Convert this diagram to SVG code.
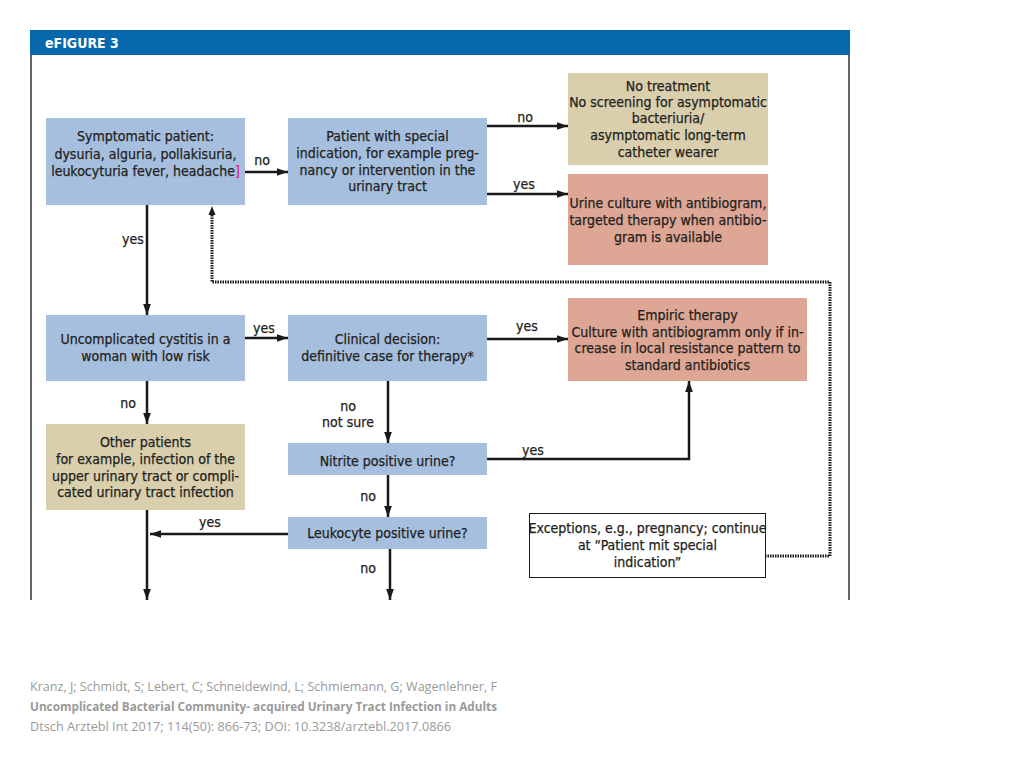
<svg xmlns="http://www.w3.org/2000/svg" width="1024" height="768" viewBox="0 0 1024 768">
<defs>
<marker id="ah" viewBox="0 0 10 10" refX="10" refY="5" markerWidth="4.5" markerHeight="4.5" markerUnits="strokeWidth" orient="auto"><path d="M0,1.5 L10,5 L0,8.5 z" fill="#1a1a1a"/></marker>
</defs>
<style>
.t{font-family:"Liberation Sans Narrow","DejaVu Sans Condensed","Liberation Sans",sans-serif;font-size:14px;fill:#231f20;stroke:#231f20;stroke-width:0.25;text-anchor:middle}
.l{font-family:"Liberation Sans Narrow","DejaVu Sans Condensed","Liberation Sans",sans-serif;font-size:14px;fill:#231f20;stroke:#231f20;stroke-width:0.25;text-anchor:middle}
.blue{fill:#a6bfdf}
.tan{fill:#d9cfad}
.red{fill:#dea694}
.c{stroke:#1a1a1a;stroke-width:2.5;fill:none;marker-end:url(#ah)}
.d{stroke:#1a1a1a;stroke-width:3;fill:none;stroke-dasharray:1.5 1}
.f{font-family:"Open Sans","Noto Sans",sans-serif;font-size:12px;fill:#9a9a9a}
</style>
<rect x="0" y="0" width="1024" height="768" fill="#ffffff"/>
<g id="frame">
<rect x="30" y="30" width="820" height="25" fill="#0667ad"/>
<text x="45" y="48" style="font-family:'Liberation Sans Narrow','DejaVu Sans Condensed','Liberation Sans',sans-serif;font-size:14px;font-weight:bold;fill:#ffffff">eFIGURE 3</text>
<line x1="31" y1="55" x2="31" y2="600" stroke="#333" stroke-width="1.5"/>
<line x1="849" y1="55" x2="849" y2="600" stroke="#333" stroke-width="1.5"/>
</g>
<g id="connectors">
<line class="c" x1="245" y1="172" x2="288" y2="172"/>
<text class="l" x="262" y="165">no</text>
<line class="c" x1="487" y1="126" x2="568" y2="126"/>
<text class="l" x="525" y="122">no</text>
<line class="c" x1="487" y1="194" x2="568" y2="194"/>
<text class="l" x="524" y="189">yes</text>
<line class="c" x1="147" y1="205" x2="147" y2="315"/>
<text class="l" x="133" y="244">yes</text>
<path class="d" d="M765,556 H830 V282 H212 V212"/>
<path d="M212,206 L208.5,215 L215.5,215 z" fill="#1a1a1a"/>
<line class="c" x1="245" y1="338" x2="288" y2="338"/>
<text class="l" x="264" y="333">yes</text>
<line class="c" x1="487" y1="339" x2="568" y2="339"/>
<text class="l" x="527" y="331">yes</text>
<line class="c" x1="147" y1="381" x2="147" y2="424"/>
<text class="l" x="128" y="408">no</text>
<line class="c" x1="388" y1="381" x2="388" y2="443"/>
<text class="l" x="348" y="411">no</text>
<text class="l" x="348" y="427">not sure</text>
<path class="c" d="M487,459 H689 V381"/>
<text class="l" x="533" y="455">yes</text>
<line class="c" x1="388" y1="475" x2="388" y2="517"/>
<text class="l" x="368" y="501">no</text>
<line class="c" x1="288" y1="534" x2="150" y2="534"/>
<text class="l" x="210" y="527">yes</text>
<line class="c" x1="147" y1="510" x2="147" y2="600"/>
<line class="c" x1="390" y1="549" x2="390" y2="600"/>
<text class="l" x="368" y="573">no</text>
</g>
<g id="symptomatic">
<rect class="blue" x="46" y="118" width="199" height="87"/>
<text class="t" x="145.5" y="141">Symptomatic patient:</text>
<text class="t" x="145.5" y="159">dysuria, alguria, pollakisuria,</text>
<text class="t" x="145.5" y="176">leukocyturia fever, headache<tspan fill="#e0218a" stroke="#e0218a">]</tspan></text>
</g>
<g id="special">
<rect class="blue" x="288" y="118" width="199" height="87"/>
<text class="t" x="387.5" y="141">Patient with special</text>
<text class="t" x="387.5" y="158">indication, for example preg-</text>
<text class="t" x="387.5" y="175">nancy or intervention in the</text>
<text class="t" x="387.5" y="191">urinary tract</text>
</g>
<g id="notreatment">
<rect class="tan" x="568" y="73" width="200" height="92"/>
<text class="t" x="668" y="91">No treatment</text>
<text class="t" x="668" y="107">No screening for asymptomatic</text>
<text class="t" x="668" y="123">bacteriuria/</text>
<text class="t" x="668" y="140">asymptomatic long-term</text>
<text class="t" x="668" y="157">catheter wearer</text>
</g>
<g id="urineculture">
<rect class="red" x="568" y="174" width="200" height="91"/>
<text class="t" x="668" y="208">Urine culture with antibiogram,</text>
<text class="t" x="668" y="225">targeted therapy when antibio-</text>
<text class="t" x="668" y="242">gram is available</text>
</g>
<g id="uncomplicated">
<rect class="blue" x="46" y="315" width="199" height="66"/>
<text class="t" x="145.5" y="344">Uncomplicated cystitis in a</text>
<text class="t" x="145.5" y="361">woman with low risk</text>
</g>
<g id="clinical">
<rect class="blue" x="288" y="315" width="199" height="66"/>
<text class="t" x="387.5" y="344">Clinical decision:</text>
<text class="t" x="387.5" y="361">definitive case for therapy*</text>
</g>
<g id="empiric">
<rect class="red" x="568" y="298" width="239" height="83"/>
<text class="t" x="687.5" y="320">Empiric therapy</text>
<text class="t" x="687.5" y="337">Culture with antibiogramm only if in-</text>
<text class="t" x="687.5" y="353">crease in local resistance pattern to</text>
<text class="t" x="687.5" y="370">standard antibiotics</text>
</g>
<g id="other">
<rect class="tan" x="46" y="424" width="199" height="86"/>
<text class="t" x="145.5" y="447">Other patients</text>
<text class="t" x="145.5" y="464">for example, infection of the</text>
<text class="t" x="145.5" y="481">upper urinary tract or compli-</text>
<text class="t" x="145.5" y="497">cated urinary tract infection</text>
</g>
<g id="nitrite">
<rect class="blue" x="288" y="443" width="199" height="32"/>
<text class="t" x="387.5" y="466">Nitrite positive urine?</text>
</g>
<g id="leukocyte">
<rect class="blue" x="288" y="517" width="199" height="32"/>
<text class="t" x="387.5" y="538">Leukocyte positive urine?</text>
</g>
<g id="exceptions">
<rect x="529.5" y="513.5" width="236" height="64" fill="#ffffff" stroke="#1a1a1a" stroke-width="1"/>
<text class="t" x="647.5" y="533">Exceptions, e.g., pregnancy; continue</text>
<text class="t" x="647.5" y="550">at “Patient mit special</text>
<text class="t" x="647.5" y="567">indication”</text>
</g>
<g id="citation">
<text class="f" x="30" y="691" textLength="467" lengthAdjust="spacingAndGlyphs">Kranz, J; Schmidt, S; Lebert, C; Schneidewind, L; Schmiemann, G; Wagenlehner, F</text>
<text class="f" x="30" y="711" font-weight="bold" textLength="467" lengthAdjust="spacingAndGlyphs">Uncomplicated Bacterial Community- acquired Urinary Tract Infection in Adults</text>
<text class="f" x="30" y="731" textLength="421" lengthAdjust="spacingAndGlyphs">Dtsch Arztebl Int 2017; 114(50): 866-73; DOI: 10.3238/arztebl.2017.0866</text>
</g>
</svg>
